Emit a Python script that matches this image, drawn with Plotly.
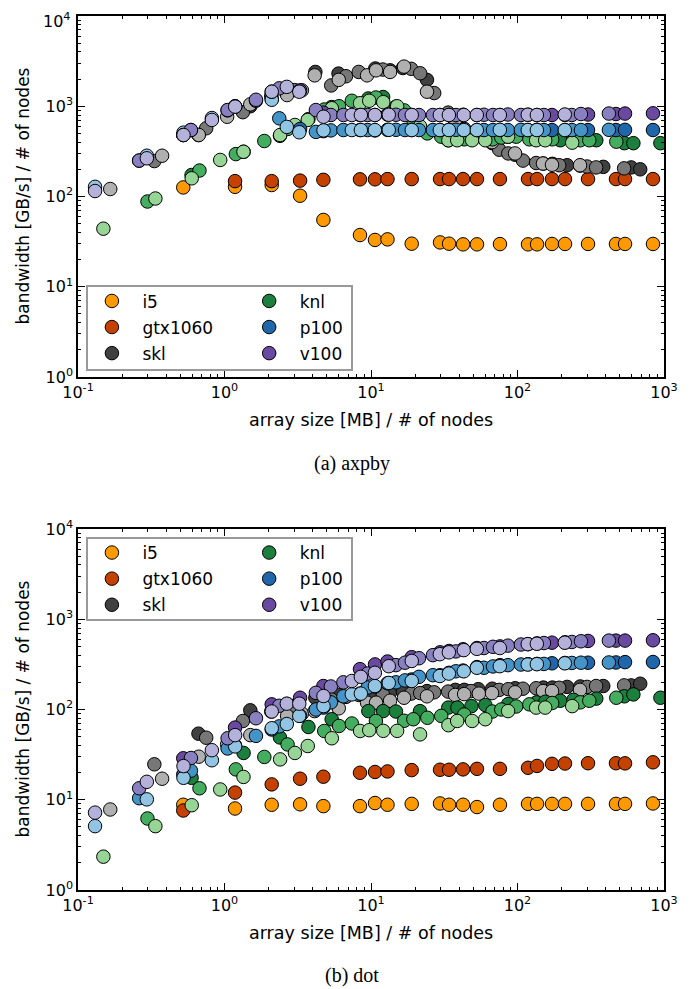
import plotly.graph_objects as go

# ---------------- data ----------------
# array sizes [MB] per device (single node); x = size / nodes
SIZES = [0.523, 1.18, 2.10, 3.28, 4.73, 8.41, 10.65, 12.96, 18.96, 29.6, 34.1,
         42.5, 52.9, 75.9, 118, 136, 172, 211, 303, 470, 542, 841]
SIZES_KNL = [0.596, 1.35, 2.39, 3.74, 5.39, 9.59, 12.1, 14.8, 21.6, 33.7, 38.9,
             48.5, 60.3, 86.5, 135, 155, 196, 241, 345, 536, 618, 945]
SIZES_SKL = [0.664, 1.50, 2.67, 4.17, 6.0, 10.7, 13.5, 16.5, 24.1, 37.6, 43.3,
             54.0, 67.2, 96.4, 150, 173, 218, 268, 385, 597, 688, 1068]
NODES = [1, 2, 4]

DEVICES = ["i5", "gtx1060", "skl", "knl", "p100", "v100"]

# ---- axpby bandwidth [GB/s] / nodes ----
AXPBY_I5 = [[126, 128, 134, 102, 55, 37.4, 33, 33.5, 30, 31, 30, 29.5, 29.5, 29.7,
             29.5, 29.5, 29.8, 29.8, 29.8, 29.8, 29.8, 29.8]]
AXPBY_GTX = [[None, 148, 148, 150, 153, 155, 155, 156, 156, 156, 156, 156, 156, 156,
              156, 156, 156, 156, 156, 156, 156, 156]]
AXPBY_SKL = [
    [480, 1000, 1400, 2400, 2300, 2620, 2500, 2650, 1960, 640, 560, 470, 390, 290,
     232, 230, 222, 220, 213, 210, 200, None],
    [247, 570, 860, 1300, 1510, 1700, 2150, 2400, 2550, 2600, 2320, 1400, 850, 480,
     330, 300, 250, 235, 222, 215, 210, 205],
    [121, 283, 480, 765, 1050, 1330, 1500, 2200, 1960, 2200, 2500, 2400, 2750, 1450,
     700, 560, 470, 400, 300, 232, 225, 222],
]
AXPBY_KNL = [
    [173, 313, 470, 720, 980, 1220, 1265, 990, 560, 420, 430, 430, 430, 460, 430,
     460, 420, 420, 420, 390, 390, 390],
    [88, 194, 295, 412, 560, 920, 1000, 1150, 1250, 900, 700, 500, 460, 430, 430,
     450, 460, 430, 430, 420, 420, 405],
    [44, 95, 159, 254, 313, 480, 620, 705, 950, 1080, 1150, 1110, 1000, 600, 420,
     420, 420, 420, 460, 420, 420, 395],
]
AXPBY_P100 = [
    [480, 990, 1200, 560, 530, 545, 540, 548, 545, 545, 548, 545, 545, 545, 545,
     548, 545, 545, 545, 545, 548, 545],
    [250, 545, 900, 1150, 735, 520, 540, 545, 545, 548, 545, 545, 545, 548, 545,
     545, 545, 548, 545, 545, 545, 548],
    [128, 283, 510, 740, 990, 1180, 590, 515, 540, 545, 545, 545, 548, 545, 545,
     545, 545, 545, 548, 545, 545, 545],
]
AXPBY_V100 = [
    [480, 1000, 1450, 1500, 850, 800, 800, 810, 800, 800, 800, 805, 800, 800, 805,
     800, 800, 800, 810, 820, 830, 835],
    [250, 545, 908, 1180, 1580, 908, 800, 800, 800, 805, 800, 800, 800, 800, 805,
     800, 810, 800, 800, 800, 820, 830],
    [115, 265, 480, 705, 990, 1450, 1640, 1450, 765, 800, 800, 800, 805, 800, 800,
     800, 800, 800, 800, 805, 800, 810],
]

# ---- dot bandwidth [GB/s] / nodes ----
DOT_I5 = [[8.8, 8.0, 8.8, 8.9, 8.5, 8.5, 9.2, 8.8, 9.0, 9.1, 8.8, 8.8, 8.3, 8.8,
           9.0, 9.0, 9.0, 9.0, 9.0, 9.0, 9.0, 9.1]]
DOT_GTX = [[7.6, 12, 14.8, 17.1, 18.0, 19.9, 20.3, 20.6, 21.3, 21.5, 21.5, 21.7,
            22.0, 22.0, 22.6, 23.7, 25, 25.2, 25.4, 25.4, 25.3, 26]]
DOT_SKL = [
    [54, 98, 115, 135, 145, 150, 155, 158, 160, 165, 165, 168, 170, 172, 175, 175,
     178, 180, 182, 185, 193, None],
    [24.7, 48.7, 74.6, 95, 110, 130, 138, 145, 147, 150, 152, 155, 158, 160, 165,
     168, 170, 172, 174, 178, 182, 185],
    [7.8, 17.1, 30, 41, 52, 85, 90, 96, 103, 119, 119, 125, 135, 140, 145, 148,
     150, 152, 155, 160, 160, 165],
]
DOT_KNL = [
    [17.5, 33, 49, 64, 78, 96, 96, 95, 96, 105, 105, 109, 112, 115, 120, 122, 125,
     128, 132, 140, 147, 135],
    [6.2, 13.4, 21.7, 29.8, 41, 57.8, 65.7, 70, 74.6, 75, 78, 81, 85, 88, 95, 100,
     108, 114, 118, 120, 125, 135],
    [2.34, 5.1, 8.7, 13, 17.9, 28, 33, 39.4, 48, 57.8, 59, 58, 58, 53, 67, 74.6,
     74.6, 78, 96, 105, 105, 109],
]
DOT_P100 = [
    [19, 40, 60, 85, 105, 150, 180, 195, 215, 240, 255, 270, 295, 310, 318, 320,
     325, 328, 330, 332, 335, 336],
    [10.4, 21, 37, 51, 65, 100, 120, 140, 175, 200, 210, 230, 240, 265, 290, 300,
     310, 315, 320, 328, 330, 332],
    [5.1, 10.1, 17.5, 27.4, 39, 62, 69, 85, 109, 147, 150, 182, 197, 207, 235, 250,
     265, 290, 302, 315, 318, 325],
]
DOT_V100 = [
    [28.8, 63, 114, 135, 182, 280, 316, 340, 380, 430, 445, 465, 480, 500, 530,
     540, 550, 555, 575, 580, 580, 585],
    [13.4, 29, 48, 80, 110, 153, 180, 200, 250, 310, 330, 370, 400, 440, 480, 495,
     510, 525, 545, 560, 570, 580],
    [7.2, 15.8, 23.6, 35.4, 52, 95, 116, 116, 141, 207, 230, 255, 302, 345, 410,
     430, 455, 470, 480, 530, 535, 550],
]

X_TICKS = [0.1, 1, 10, 100, 1000]
X_TICKTEXT = ["10<sup>-1</sup>", "10<sup>0</sup>", "10<sup>1</sup>", "10<sup>2</sup>", "10<sup>3</sup>"]
Y_TICKS = [1, 10, 100, 1000, 10000]
Y_TICKTEXT = ["10<sup>0</sup>", "10<sup>1</sup>", "10<sup>2</sup>", "10<sup>3</sup>", "10<sup>4</sup>"]
X_MINOR = [m * 10 ** e for e in range(-1, 3) for m in range(2, 10)]
Y_MINOR = [m * 10 ** e for e in range(0, 4) for m in range(2, 10)]

# ---------------- styling ----------------
COLORS = {
    "i5": ["#ff9900"],
    "gtx1060": ["#c44100"],
    "skl": ["#404040", "#777777", "#b0b0b0"],
    "knl": ["#1b7f3d", "#45ad5f", "#96d595"],
    "p100": ["#1f66ab", "#4494c8", "#92c5e3"],
    "v100": ["#6a49a0", "#8880c0", "#b4b2da"],
}
SIZE_OF = {"i5": SIZES, "gtx1060": SIZES, "skl": SIZES_SKL, "knl": SIZES_KNL,
           "p100": SIZES, "v100": SIZES}
CHARTS = [
    {"i5": AXPBY_I5, "gtx1060": AXPBY_GTX, "skl": AXPBY_SKL, "knl": AXPBY_KNL,
     "p100": AXPBY_P100, "v100": AXPBY_V100},
    {"i5": DOT_I5, "gtx1060": DOT_GTX, "skl": DOT_SKL, "knl": DOT_KNL,
     "p100": DOT_P100, "v100": DOT_V100},
]

# page is 700x989, the plot div sits 8px in from the top-left (body margin)
OFF = 8
W, H = 700 - OFF, 989 - OFF
FONT = "DejaVu Sans"
MS = 13.5

def px(v):
    return (v - OFF) / W

def py(v):
    return 1 - (v - OFF) / H

fig = go.Figure()

axes = [("x", "y"), ("x2", "y2")]
legends = [("legend", "legend2"), ("legend3", "legend4")]

for ci, data in enumerate(CHARTS):
    xa, ya = axes[ci]
    for dev in DEVICES:
        sizes = SIZE_OF[dev]
        for k, ys in enumerate(data[dev]):
            xs, yy = [], []
            for s, v in zip(sizes, ys):
                if v is not None:
                    xs.append(s / NODES[k])
                    yy.append(v)
            fig.add_trace(go.Scatter(
                x=xs, y=yy, mode="markers", xaxis=xa, yaxis=ya,
                marker=dict(size=MS, color=COLORS[dev][k], line=dict(color="black", width=1)),
                showlegend=False, legendgroup=f"{dev}{ci}", name=dev,
            ))
    # legend entries
    for j, dev in enumerate(DEVICES):
        fig.add_trace(go.Scatter(
            x=[None], y=[None], mode="markers", xaxis=xa, yaxis=ya,
            marker=dict(size=MS, color=COLORS[dev][0], line=dict(color="black", width=1)),
            name=dev, legendgroup=f"{dev}{ci}", showlegend=True,
            legend=legends[ci][0] if j < 3 else legends[ci][1],
        ))

axis_common = dict(
    type="log", showgrid=False, zeroline=False, showline=True, linecolor="black",
    linewidth=1.5, mirror="allticks", ticks="inside", ticklen=7, tickwidth=1,
    tickcolor="black", tickfont=dict(family=FONT, size=16, color="black"),
    automargin=False, ticklabeloverflow="allow",
)

top = (16, 377)
bot = (529, 890)
xdom = [px(78), px(664)]

def xaxis(anchor):
    return dict(axis_common, domain=xdom, range=[-1, 3], anchor=anchor,
                tickvals=X_TICKS, ticktext=X_TICKTEXT,
                minor=dict(tickvals=X_MINOR, ticks="inside", ticklen=3.5, tickwidth=1,
                           tickcolor="black", showgrid=False))

def yaxis(anchor, dom, n_labels):
    # ticks at every decade; labels for the first n_labels decades
    return dict(axis_common, domain=[py(dom[1]), py(dom[0])], range=[0, 4], anchor=anchor,
                tickvals=Y_TICKS,
                ticktext=Y_TICKTEXT[:n_labels] + [""] * (len(Y_TICKS) - n_labels),
                minor=dict(tickvals=Y_MINOR, ticks="inside", ticklen=3.5, tickwidth=1,
                           tickcolor="black", showgrid=False))

fig.update_layout(
    width=W, height=H, margin=dict(l=0, r=0, t=0, b=0, autoexpand=False),
    paper_bgcolor="white", plot_bgcolor="white",
    xaxis=xaxis("y"), yaxis=yaxis("x", top, 4),
    xaxis2=xaxis("y2"), yaxis2=yaxis("x2", bot, 5),
    font=dict(family=FONT, color="black"),
)

ITEMW = 51
SYM_OFF = 30.3
leg_common = dict(font=dict(family=FONT, size=17, color="black"), bgcolor="rgba(0,0,0,0)",
                  borderwidth=0, tracegroupgap=1, itemwidth=ITEMW, xanchor="left",
                  yanchor="top", traceorder="grouped", itemclick=False, itemdoubleclick=False)
boxes = [(87, 286, 352, 370), (87, 538, 352, 620)]
rows1 = [300.7, 552.3]
for ci in range(2):
    x0, y0, x1, y1 = boxes[ci]
    l1, l2 = legends[ci]
    top_y = rows1[ci] - 17.3
    fig.update_layout({
        l1: dict(leg_common, x=px(111.7 - SYM_OFF), y=py(top_y)),
        l2: dict(leg_common, x=px(269 - SYM_OFF), y=py(top_y)),
    })
    fig.add_shape(type="rect", xref="paper", yref="paper", x0=px(x0), x1=px(x1),
                  y0=py(y1), y1=py(y0), line=dict(color="#999999", width=2),
                  fillcolor="rgba(0,0,0,0)", layer="above")

ann = []
# top-most y tick label of the upper panel, kept inside the page
ann.append(dict(text=Y_TICKTEXT[-1], x=px(71), y=py(8.5), xref="paper", yref="paper",
                showarrow=False, xanchor="right", yanchor="top", borderpad=0,
                font=dict(family=FONT, size=16, color="black")))
for (ytop, ybot), xl_y, cap_y, cap in [(top, 420, 463, "(a) axpby"), (bot, 933, 975, "(b) dot")]:
    ann.append(dict(text="array size [MB] / # of nodes", x=px(371), y=py(xl_y), xref="paper",
                    yref="paper", showarrow=False, xanchor="center", yanchor="middle",
                    font=dict(family=FONT, size=17.5, color="black")))
    ann.append(dict(text="bandwidth [GB/s] / # of nodes", x=px(22), y=py((ytop + ybot) / 2),
                    xref="paper", yref="paper", showarrow=False, textangle=-90,
                    xanchor="center", yanchor="middle",
                    font=dict(family=FONT, size=17, color="black")))
    ann.append(dict(text=cap, x=px(352), y=py(cap_y), xref="paper", yref="paper",
                    showarrow=False, xanchor="center", yanchor="middle",
                    font=dict(family="Liberation Serif", size=20, color="black")))
fig.update_layout(annotations=ann)

fig.write_html("out.html")
